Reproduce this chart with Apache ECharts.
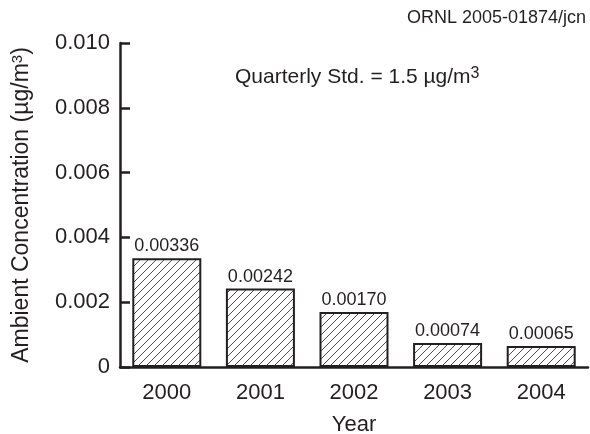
<!DOCTYPE html>
<html>
<head>
<meta charset="utf-8">
<style>
  html, body { margin: 0; padding: 0; background: #fff; }
  #chart { width: 590px; height: 434px; }
</style>
<script src="https://cdn.jsdelivr.net/npm/echarts@6/dist/echarts.min.js"></script>
</head>
<body>
<div id="chart"></div>
<script>
// Annual ambient concentration by year
const years = ['2000', '2001', '2002', '2003', '2004'];
const concentrations = [0.00336, 0.00242, 0.00170, 0.00074, 0.00065];
const yTicks = [0, 0.002, 0.004, 0.006, 0.008, 0.010];

const FONT = '"Liberation Sans", Arial, Helvetica, sans-serif';
const INK = '#231f20';

// Diagonal hatch fill for the bars
function hatchPattern() {
  const s = 8;
  const c = document.createElement('canvas');
  c.width = s; c.height = s;
  const g = c.getContext('2d');
  g.fillStyle = '#fff';
  g.fillRect(0, 0, s, s);
  g.strokeStyle = '#3a3a3a';
  g.lineWidth = 0.9;
  g.beginPath();
  g.moveTo(-1, s + 1); g.lineTo(s + 1, -1);
  g.moveTo(-1, 1); g.lineTo(1, -1);
  g.moveTo(s - 1, s + 1); g.lineTo(s + 1, s - 1);
  g.stroke();
  return c;
}

const chart = echarts.init(document.getElementById('chart'), null, { renderer: 'canvas' });

chart.setOption({
  animation: false,
  backgroundColor: '#fff',
  grid: { left: 120, right: 2, top: 43, bottom: 67, outerBoundsMode: 'none', containLabel: false },
  xAxis: {
    type: 'category',
    data: years,
    name: 'Year',
    nameLocation: 'middle',
    nameGap: 47,
    nameTextStyle: { fontFamily: FONT, fontSize: 22, color: INK },
    axisLine: { lineStyle: { color: INK, width: 2.5 } },
    axisTick: { show: false },
    axisLabel: { fontFamily: FONT, fontSize: 22, color: INK, margin: 15 }
  },
  yAxis: {
    type: 'value',
    min: yTicks[0],
    max: yTicks[yTicks.length - 1],
    interval: 0.002,
    name: 'Ambient Concentration (µg/m{sup|3})',
    nameLocation: 'middle',
    nameGap: 86,
    nameTextStyle: {
      fontFamily: FONT, fontSize: 23, color: INK,
      rich: { sup: { fontFamily: FONT, fontSize: 15, color: INK, verticalAlign: 'top', padding: [0, 0, 9, 0] } }
    },
    axisLine: { show: true, lineStyle: { color: INK, width: 2.5 } },
    axisTick: { show: true, inside: true, length: 10, lineStyle: { color: INK, width: 2.5 } },
    splitLine: { show: false },
    axisLabel: {
      fontFamily: FONT, fontSize: 22, color: INK, margin: 10,
      formatter: v => (v === 0 ? '0' : v.toFixed(3))
    }
  },
  series: [{
    type: 'bar',
    data: concentrations,
    barWidth: 69,
    itemStyle: {
      color: { image: hatchPattern(), repeat: 'repeat' },
      borderColor: INK,
      borderWidth: 2
    },
    label: {
      show: true,
      position: 'top',
      distance: 3,
      fontFamily: FONT,
      fontSize: 18,
      color: INK,
      formatter: p => p.value.toFixed(5)
    }
  }],
  graphic: [
    {
      type: 'text',
      left: 235,
      top: 66,
      style: {
        text: 'Quarterly Std. = 1.5 µg/m{sup|3}',
        font: '21px ' + FONT,
        fill: INK,
        rich: { sup: { font: '16px ' + FONT, fill: INK, verticalAlign: 'top', padding: [0, 0, 7, 0] } }
      }
    },
    {
      type: 'text',
      right: 4,
      top: 9,
      style: {
        text: 'ORNL 2005-01874/jcn',
        font: '18px ' + FONT,
        fill: INK
      }
    }
  ]
});
</script>
</body>
</html>
